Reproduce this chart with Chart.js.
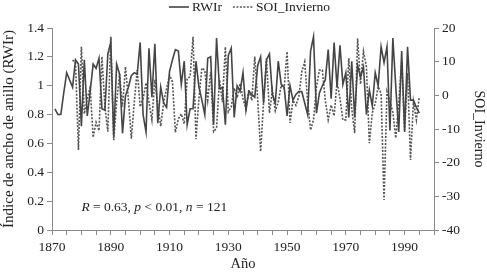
<!DOCTYPE html>
<html>
<head>
<meta charset="utf-8">
<script src="https://cdn.jsdelivr.net/npm/chart.js@4.4.1/dist/chart.umd.min.js"></script>
<style>
  html, body { margin: 0; padding: 0; background: #fff; }
  #contenedor { width: 487px; height: 273px; }
</style>
</head>
<body>
<div id="contenedor"><canvas id="graficoRWIr"></canvas></div>
<script>
// Indice de ancho de anillo (RWIr), un valor por año desde 1871
const inicioRWIr = 1871;
const rwir = [
  0.84,
  0.80, 0.80, 0.95, 1.09, 1.04, 0.99, 1.18, 1.15, 0.72, 1.18,   // 1872-1881
  0.79, 0.96, 1.15, 1.12, 1.19, 0.84, 0.83, 1.22, 1.30, 0.65,   // 1882-1891
  1.15, 1.08, 0.67, 0.93, 0.99, 1.07, 1.09, 1.08, 1.30, 0.80,   // 1892-1901
  0.68, 1.26, 0.92, 1.29, 0.74, 0.99, 0.88, 0.85, 1.10, 1.18,   // 1902-1911
  1.25, 1.24, 1.01, 1.17, 0.73, 0.84, 0.84, 1.17, 0.99, 0.90,   // 1912-1921
  0.80, 1.19, 1.20, 0.73, 1.33, 0.98, 0.99, 0.73, 1.21, 1.26,   // 1922-1931
  0.78, 1.00, 0.96, 1.09, 0.83, 0.96, 0.94, 0.92, 1.14, 1.20,   // 1932-1941
  0.88, 1.18, 1.22, 0.94, 0.88, 1.17, 1.01, 0.99, 0.79, 1.00,   // 1942-1951
  0.90, 0.94, 0.96, 0.96, 0.88, 0.80, 1.24, 1.34, 0.81, 0.95,   // 1952-1961
  1.00, 1.04, 1.25, 0.91, 1.30, 0.99, 1.28, 1.01, 1.09, 0.78,   // 1962-1971
  1.17, 0.78, 1.14, 1.06, 1.13, 0.80, 0.97, 0.86, 1.09, 1.00,   // 1972-1981
  1.27, 1.16, 1.27, 0.69, 1.33, 0.99, 0.68, 1.24, 0.68, 1.27,   // 1982-1991
  0.90, 0.90, 0.85, 0.81                                        // 1992-1995
];

// SOI de invierno, desde 1877
const inicioSOI = 1877;
const soi = [
  10.5, 9.6, -16.2, 14.4, -5.5, -1, 2.4, -12.5, -8, -10.5,      // 1877-1886
  11.5, -3.4, -10.8, 17.4, -13.3, -2, 6.3, -3.4, 8.5, -1.1,     // 1887-1896
  -12.9, -2, 7.5, -3.4, -1, 3.7, -2, -7.3, 4.7, -3,             // 1897-1906
  -9.2, -2, 2, 6.0, 4, -11.0, -7, -5.5, -8.5, 5,                // 1907-1916
  5.5, 17.4, -13.0, -1, 8.1, 7.5, -1.4, 7.0, -10.8, -9.7,       // 1917-1926
  4.6, -2, 14.4, -4.9, -3.4, 2.2, -0.8, 3.5, -1, -4,            // 1927-1936
  1.7, -1.5, 11.5, -1.1, -16.7, -2, 11.0, -5.2, 1.5, -4.6,      // 1937-1946
  -2, 3, 2, 13.0, -8.2, -1.5, -3, -0.4, 7.0, 10.0,              // 1947-1956
  -1.9, -10.3, -7.3, 2.6, 7.5, 7.5, -1.4, -7.3, -2.9, -6.1,     // 1957-1966
  4.0, -0.9, -7.3, -7.3, 11.0, -3.9, -11.2, 16.9, 3.3, 13.0,    // 1967-1976
  8.5, -14.2, -5.2, -2.4, 2.6, 0.5, -31.1, 1.1, -1.9, -5,       // 1977-1986
  -12.7, -2, 10.0, -10.3, 6.6, -19.2, -1.9, -7.3, -0.4          // 1987-1995
];

// Ejes
const rangoAnnos = [1870, 2000];
const rangoRWIr = [0, 1.4];
const rangoSOI = [-40, 20];
const textoEstadistica = [
  { t: 'R', italica: true }, { t: ' = 0.63, ', italica: false },
  { t: 'p', italica: true }, { t: ' < 0.01, ', italica: false },
  { t: 'n', italica: true }, { t: ' = 121', italica: false }
];

const fuente = 'Liberation Serif, Times New Roman, serif';
const colorTexto = '#222';
const colorEje = '#8a8a8a';

//Texto de la correlacion dentro del grafico
const pluginEstadistica = {
  id: 'estadistica',
  afterDraw(chart) {
    const ctx = chart.ctx;
    let x = chart.scales.x.getPixelForValue(1880);
    const y = chart.scales.y.getPixelForValue(0.13);
    ctx.save();
    ctx.fillStyle = colorTexto;
    ctx.textBaseline = 'alphabetic';
    textoEstadistica.forEach(p => {
      ctx.font = (p.italica ? 'italic ' : '') + '13.5px ' + fuente;
      ctx.fillText(p.t, x, y);
      x += ctx.measureText(p.t).width;
    });
    ctx.restore();
  }
};

//Leyenda arriba, con muestra de linea continua y punteada
const pluginLeyenda = {
  id: 'leyendaLineas',
  afterDraw(chart) {
    const ctx = chart.ctx;
    const largo = 20, sep = 3, hueco = 11, y = 7;
    ctx.save();
    ctx.font = '13.5px ' + fuente;
    const items = chart.data.datasets.map(ds => ({ ds, w: largo + sep + ctx.measureText(ds.label).width }));
    const total = items.reduce((a, it) => a + it.w, 0) + hueco * (items.length - 1);
    let x = chart.width / 2 + 6 - total / 2;
    items.forEach(it => {
      ctx.strokeStyle = it.ds.borderColor;
      ctx.lineWidth = it.ds.borderWidth;
      ctx.setLineDash(it.ds.borderDash || []);
      ctx.beginPath();
      ctx.moveTo(x, y);
      ctx.lineTo(x + largo, y);
      ctx.stroke();
      ctx.setLineDash([]);
      ctx.fillStyle = colorTexto;
      ctx.textBaseline = 'middle';
      ctx.fillText(it.ds.label, x + largo + sep, y);
      x += it.w + hueco;
    });
    ctx.restore();
  }
};

const ctx = document.getElementById('graficoRWIr').getContext('2d');
new Chart(ctx, {
  type: 'line',
  data: {
    datasets: [
      {
        label: 'RWIr',
        data: rwir.map((v, i) => ({ x: inicioRWIr + i, y: v })),
        borderColor: '#454545',
        backgroundColor: '#454545',
        borderWidth: 1.6,
        pointRadius: 0,
        tension: 0,
        yAxisID: 'y'
      },
      {
        label: 'SOI_Invierno',
        data: soi.map((v, i) => ({ x: inicioSOI + i, y: v })),
        borderColor: '#555',
        backgroundColor: '#555',
        borderWidth: 1.6,
        borderDash: [2, 1.5],
        pointRadius: 0,
        tension: 0,
        yAxisID: 'y1'
      }
    ]
  },
  options: {
    responsive: true,
    maintainAspectRatio: false,
    animation: false,
    layout: { padding: { left: 0, right: 0, top: 0, bottom: 0 } },
    plugins: {
      tooltip: { enabled: false },
      legend: { display: false }
    },
    scales: {
      x: {
        type: 'linear',
        min: rangoAnnos[0],
        max: rangoAnnos[1],
        afterFit: s => { s.height = 43; },
        ticks: {
          stepSize: 5,
          autoSkip: false,
          maxRotation: 0,
          padding: 4,
          color: colorTexto,
          font: { family: fuente, size: 13.5 },
          callback: v => (v % 20 === 10 && v < 2000) ? String(v) : ''
        },
        grid: { drawOnChartArea: false, tickLength: 5, color: colorEje },
        border: { color: colorEje },
        title: { display: true, text: 'Año', color: colorTexto, font: { family: fuente, size: 14.5 }, padding: { top: 2, bottom: 0 } }
      },
      y: {
        position: 'left',
        min: rangoRWIr[0],
        max: rangoRWIr[1],
        afterFit: s => { s.width = 52; s.paddingTop = 28; },
        ticks: {
          stepSize: 0.2, padding: 3, color: colorTexto, font: { family: fuente, size: 13.5 },
          callback: v => String(Math.round(v * 10) / 10)
        },
        grid: { drawOnChartArea: false, tickLength: 5, color: colorEje },
        border: { color: colorEje },
        title: { display: true, text: 'Índice de ancho de anillo (RWIr)', color: colorTexto, font: { family: fuente, size: 15 }, padding: 0 }
      },
      y1: {
        position: 'right',
        min: rangoSOI[0],
        max: rangoSOI[1],
        afterFit: s => { s.width = 53; s.paddingTop = 28; },
        ticks: { stepSize: 10, padding: 3, color: colorTexto, font: { family: fuente, size: 13.5 } },
        grid: { drawOnChartArea: false, tickLength: 5, color: colorEje },
        border: { color: colorEje },
        title: { display: true, text: 'SOI_Invierno', color: colorTexto, font: { family: fuente, size: 14 }, padding: 0 }
      }
    }
  },
  plugins: [pluginEstadistica, pluginLeyenda]
});
</script>
</body>
</html>
